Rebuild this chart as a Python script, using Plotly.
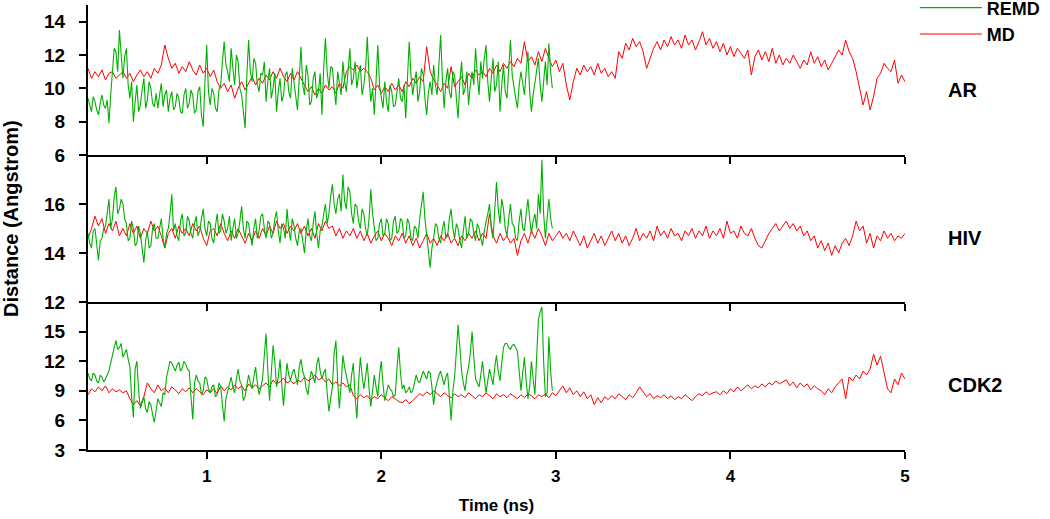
import numpy as np
import plotly.graph_objects as go

# ---------------- data ----------------
# MD traces sampled every 0.02 ns, REMD traces every 0.01 ns, both from 0.32 ns
T_START = 0.32
STEP_MD = 0.02
STEP_REMD = 0.01

ar_md = [
    11.2, 10.6, 11.0, 10.7, 11.1, 10.5, 10.9, 11.0, 10.6, 10.8,
    11.0, 10.6, 10.9, 10.4, 10.8, 11.1, 10.7, 11.0, 10.6, 11.2,
    10.9, 11.4, 12.6, 11.8, 11.2, 11.5, 10.9, 11.3, 11.0, 11.6,
    11.1, 10.8, 11.4, 10.9, 11.2, 10.7, 11.1, 10.4, 10.0, 10.3,
    9.8, 10.2, 9.4, 10.0, 10.4, 9.9, 10.3, 10.7, 10.2, 10.6,
    10.3, 10.8, 10.5, 11.0, 10.6, 11.2, 10.7, 10.4, 10.9, 10.5,
    11.0, 10.6, 10.2, 9.8, 10.1, 9.6, 10.0, 9.7, 10.2, 9.9,
    10.1, 9.7, 10.3, 10.0, 11.0, 11.3, 11.1, 11.4, 11.0, 11.2,
    11.0, 10.6, 9.9, 10.2, 9.7, 10.1, 9.8, 10.3, 9.9, 10.2,
    9.8, 10.4, 10.1, 10.6, 10.3, 10.7, 10.4, 12.5, 11.0, 10.5,
    10.2, 9.8, 10.3, 10.0, 11.3, 10.1, 10.4, 10.7, 10.2, 10.9,
    10.6, 11.1, 10.8, 11.0, 10.7, 11.2, 10.9, 11.4, 11.0, 11.5,
    11.2, 11.6, 11.3, 11.8, 11.5, 12.8, 11.6, 11.9, 11.4, 12.2,
    11.6, 12.4, 11.8, 11.3, 11.7, 11.0, 11.5, 10.2, 9.3, 10.4,
    11.2, 10.8, 11.4, 11.0, 11.3, 10.8, 11.5, 10.9, 11.2, 10.7,
    11.0, 10.6, 12.2, 11.8, 12.7, 12.3, 13.0, 12.5, 12.8, 12.2,
    11.2, 11.8, 12.4, 12.8, 12.3, 12.9, 12.5, 13.1, 12.6, 12.9,
    12.4, 13.2, 12.6, 12.9, 12.3, 12.8, 13.4, 12.6, 13.0, 12.4,
    12.8, 12.2, 12.7, 12.0, 12.5, 11.9, 12.4, 12.1, 11.8, 12.3,
    10.8, 11.9, 12.3, 11.7, 12.2, 11.6, 12.4, 11.5, 12.0, 11.4,
    11.8, 11.5, 12.0, 11.6, 11.2, 11.7, 11.4, 12.2, 11.5, 11.9,
    11.3, 11.7, 11.1, 11.5, 11.9, 12.3, 12.0, 12.9, 12.2, 11.8,
    11.0, 10.0, 9.0, 9.8, 8.7, 9.5, 10.6, 10.9, 11.5, 11.2,
    11.0, 11.7, 10.3, 10.8, 10.4,
]

ar_remd = [
    9.4, 9.0, 8.6, 9.5, 9.2, 8.7, 8.4, 9.1, 9.6, 9.0, 8.8, 9.3, 7.9, 9.6, 10.8, 12.4, 12.2, 11.0, 13.5, 11.8,
    10.6, 11.9, 12.4, 10.2, 9.4, 10.4, 8.0, 9.2, 10.2, 8.6, 9.0, 9.9, 10.6, 8.8, 9.3, 10.4, 10.0, 9.1, 8.9, 9.7,
    8.8, 9.6, 10.3, 8.9, 9.6, 9.9, 8.6, 9.4, 9.8, 8.7, 8.9, 9.7, 9.4, 8.6, 8.5, 9.6, 10.0, 8.8, 9.1, 9.9,
    9.6, 8.5, 8.7, 9.8, 10.1, 8.4, 7.7, 10.4, 12.6, 9.8, 9.0, 10.0, 9.7, 8.8, 8.6, 9.9, 10.2, 11.6, 12.8, 11.4,
    11.0, 10.4, 12.4, 11.2, 10.2, 12.0, 11.6, 10.0, 9.6, 8.6, 7.6, 10.8, 12.9, 11.0, 10.4, 11.8, 11.5, 10.2, 9.8, 10.9,
    10.8, 11.6, 9.2, 10.4, 11.2, 9.4, 10.0, 10.9, 8.6, 9.8, 10.6, 9.2, 9.6, 10.8, 11.0, 9.8, 9.4, 11.2, 10.4, 9.5,
    8.7, 10.6, 12.5, 10.2, 9.6, 11.4, 10.8, 9.0, 9.2, 10.6, 11.0, 9.4, 9.8, 10.9, 8.4, 11.2, 13.0, 11.0, 10.0, 11.3,
    11.2, 10.0, 9.0, 11.0, 10.4, 9.6, 11.6, 10.4, 9.8, 11.0, 12.4, 10.2, 10.6, 11.6, 10.0, 10.8, 11.4, 9.6, 10.2, 11.2,
    13.1, 10.6, 9.2, 10.0, 8.4, 10.4, 12.6, 10.2, 9.6, 8.8, 10.4, 9.2, 8.6, 10.2, 9.8, 8.9, 9.0, 10.0, 10.6, 9.4,
    9.2, 10.2, 8.2, 10.6, 12.8, 10.8, 9.6, 10.4, 11.0, 9.2, 9.8, 11.2, 10.8, 9.4, 8.4, 9.8, 10.4, 9.6, 11.4, 10.2,
    9.6, 11.4, 13.2, 10.6, 8.8, 10.4, 11.2, 9.8, 9.4, 11.0, 10.8, 9.4, 8.2, 10.4, 11.6, 9.6, 10.0, 11.0, 9.0, 10.2,
    11.0, 10.2, 12.4, 10.8, 9.6, 11.6, 10.6, 11.8, 12.6, 10.4, 9.2, 10.6, 11.8, 9.8, 10.2, 11.6, 8.6, 10.2, 11.4, 9.8,
    9.4, 11.2, 12.9, 10.8, 10.0, 9.4, 8.8, 10.2, 11.0, 10.2, 9.6, 11.0, 12.2, 9.8, 8.6, 9.6, 10.4, 11.0, 11.8, 10.2,
    9.2, 10.4, 11.6, 10.2, 12.7, 11.0, 10.0,
]

hiv_md = [
    14.6, 15.0, 15.5, 15.1, 15.4, 14.8, 15.2, 14.9, 15.3, 14.7,
    15.0, 14.7, 15.2, 14.8, 15.1, 14.6, 15.0, 14.8, 15.3, 14.9,
    15.1, 14.7, 14.2, 14.8, 15.0, 14.6, 15.1, 14.8, 15.0, 14.7,
    15.2, 14.9, 15.1, 14.6, 14.3, 14.9, 15.0, 14.7, 15.2, 14.8,
    14.5, 14.9, 14.6, 15.0, 14.7, 14.4, 14.8, 14.5, 14.9, 14.6,
    15.0, 14.7, 15.1, 14.8, 15.3, 15.0, 15.2, 14.8, 15.1, 14.9,
    15.2, 14.8, 15.1, 14.7, 15.0, 14.6, 15.2, 14.9, 15.3, 15.0,
    15.1, 14.7, 15.0, 14.6, 14.9, 14.7, 15.0, 14.6, 14.9, 14.5,
    14.8, 14.4, 14.7, 14.9, 14.5, 14.8, 14.6, 14.3, 14.7, 14.5,
    14.8, 14.4, 14.7, 14.3, 14.6, 14.2, 14.5, 14.8, 14.4, 14.6,
    14.3, 14.7, 14.5, 14.8, 14.4, 14.6, 14.3, 14.7, 14.5, 14.8,
    14.6, 14.9, 14.5, 14.8, 14.6, 15.6, 14.7, 14.4, 14.8, 14.5,
    14.7, 14.4, 14.6, 13.9, 14.5, 14.8, 14.4, 14.9, 14.6, 15.0,
    14.7, 14.3, 14.8, 14.5, 14.7, 14.9, 14.6, 14.8, 14.5, 14.9,
    14.6, 14.3, 14.7, 14.2, 14.5, 14.8, 14.4, 14.7, 14.3, 14.6,
    14.9, 14.5, 14.8, 14.4, 14.7, 14.3, 14.6, 15.0, 14.5, 14.8,
    14.6, 14.9, 14.5, 15.1, 14.7, 14.9, 14.6, 15.0, 14.7, 14.8,
    14.5, 14.9, 14.7, 15.0, 14.6, 14.9, 14.7, 15.1, 14.6, 14.9,
    14.7, 15.0, 14.6, 15.3, 14.8, 14.9, 14.6, 15.1, 14.8, 14.7,
    15.0, 14.6, 14.3, 14.2, 14.5, 14.8, 15.0, 15.2, 14.9, 15.1,
    15.3, 15.0, 15.2, 14.9, 15.1, 14.7, 14.9, 14.5, 14.7, 14.2,
    14.5, 14.1, 14.4, 13.9, 14.3, 14.0, 14.4, 14.6, 14.3, 14.7,
    15.3, 14.9, 15.1, 14.4, 14.8, 14.2, 14.7, 14.5, 14.9, 14.6,
    14.8, 14.5, 14.7, 14.6, 14.8,
]

hiv_remd = [
    14.8, 14.4, 14.2, 14.9, 15.0, 14.3, 13.7, 14.5, 14.6, 15.0, 15.1, 15.6, 16.2, 15.0, 15.4, 16.3, 16.7, 15.6, 15.8, 16.2,
    16.0, 15.4, 15.2, 14.5, 14.6, 15.3, 15.0, 14.3, 14.4, 15.1, 14.8, 14.2, 13.6, 14.5, 14.9, 14.2, 14.3, 15.0, 15.2, 14.6,
    14.6, 15.0, 15.4, 14.6, 14.2, 14.8, 15.0, 15.6, 16.4, 14.9, 15.2, 14.7, 14.5, 15.3, 15.6, 14.7, 14.8, 15.5, 15.3, 14.8,
    14.6, 15.2, 15.5, 14.7, 14.9, 15.4, 15.8, 15.0, 14.7, 15.3, 15.2, 14.6, 14.4, 15.1, 15.6, 14.8, 14.9, 15.6, 15.3, 14.8,
    15.0, 15.5, 14.5, 15.0, 15.4, 14.6, 14.8, 15.3, 15.9, 15.0, 14.6, 15.3, 15.2, 14.7, 14.3, 15.0, 15.4, 14.6, 14.9, 15.5,
    15.6, 15.0, 14.6, 15.3, 15.2, 14.6, 14.8, 15.4, 15.7, 14.9, 14.4, 15.2, 15.0, 14.6, 15.8, 15.0, 14.5, 15.4, 15.1, 14.6,
    14.3, 14.9, 15.0, 14.5, 14.0, 14.9, 15.4, 14.7, 14.5, 15.2, 15.7, 14.8, 14.2, 14.9, 15.1, 15.6, 16.0, 15.2, 15.6, 16.3,
    16.8, 16.0, 15.6, 16.2, 16.4, 15.7, 17.2, 16.1, 15.8, 16.7, 16.5, 15.6, 15.2, 16.0, 15.9, 15.3, 15.0, 15.8, 15.6, 15.0,
    14.7, 15.4, 16.6, 15.6, 15.1, 14.5, 14.6, 15.2, 15.4, 14.7, 14.8, 15.4, 15.2, 14.5, 14.6, 15.3, 15.5, 14.8, 14.9, 15.4,
    15.3, 14.6, 14.7, 15.4, 15.2, 14.6, 14.5, 15.1, 15.0, 14.6, 15.4, 15.9, 16.5, 15.4, 14.8, 14.2, 13.4, 14.2, 14.6, 15.2,
    15.1, 14.6, 14.4, 15.0, 15.3, 14.6, 14.7, 15.4, 15.8, 15.0, 14.6, 15.2, 15.0, 14.5, 14.2, 14.9, 15.5, 14.6, 14.8, 15.4,
    15.3, 14.8, 14.5, 15.2, 15.0, 14.6, 14.3, 14.9, 15.2, 15.6, 16.0, 15.0, 14.6, 15.8, 16.9, 15.8, 15.2, 16.2, 15.8, 15.0,
    14.7, 15.4, 16.0, 15.2, 15.1, 14.6, 14.5, 15.3, 15.8, 15.0, 14.9, 15.6, 16.2, 15.4, 14.8, 15.3, 15.6, 15.0, 16.4, 15.6,
    17.8, 15.6, 14.6, 15.4, 16.2, 15.4, 15.0,
]

cdk2_md = [
    8.6, 9.2, 8.9, 9.4, 9.0, 9.5, 8.8, 9.2, 8.9, 9.1,
    8.8, 9.0, 8.2, 7.6, 8.0, 7.5, 8.4, 9.8, 9.2, 8.8,
    9.6, 9.0, 9.3, 8.8, 9.4, 9.1, 8.7, 9.2, 8.9, 9.3,
    8.8, 9.2, 8.9, 8.6, 9.1, 8.8, 9.2, 8.7, 9.5, 9.0,
    9.4, 9.1, 9.6, 9.2, 9.5, 9.0, 9.7, 9.3, 9.6, 9.2,
    9.5, 9.8, 9.4, 10.1, 9.7, 9.9, 10.3, 9.8, 10.0, 9.7,
    10.1, 9.9, 10.4, 10.0, 10.2, 10.6, 10.1, 10.3, 9.9, 10.2,
    9.6, 9.9, 9.5, 9.8, 9.4, 9.6, 8.5, 8.2, 8.6, 8.3,
    8.5, 8.1, 8.4, 8.2, 8.6, 8.3, 8.0, 8.4, 8.2, 7.9,
    7.8, 8.1, 7.7, 8.0, 8.4, 8.7, 8.5, 8.9, 8.6, 9.0,
    8.7, 8.4, 8.8, 8.5, 8.3, 8.7, 8.4, 8.6, 8.3, 8.8,
    8.5, 8.2, 8.6, 8.4, 8.8, 8.5, 8.2, 8.7, 8.4, 8.6,
    8.3, 8.7, 8.4, 8.2, 8.6, 8.3, 8.7, 8.5, 8.2, 8.6,
    8.4, 8.7, 8.3, 8.8, 8.5, 9.0, 9.5, 8.8, 9.3, 8.6,
    9.0, 8.4, 8.9, 8.2, 8.6, 7.6, 8.3, 7.8, 8.4, 8.1,
    8.5, 8.2, 8.7, 8.4, 8.1, 8.6, 8.3, 8.8, 9.4, 8.9,
    8.4, 8.7, 8.2, 8.5, 8.3, 8.6, 8.2, 8.5, 8.1, 8.4,
    8.2, 8.6, 8.3, 8.0, 8.4, 8.7, 8.5, 8.9, 8.6, 8.8,
    8.9, 8.6, 9.0, 8.7, 9.2, 8.9, 9.4, 9.0, 9.3, 9.6,
    9.2, 9.5, 9.3, 9.7, 9.4, 9.8, 9.6, 10.0, 9.7, 9.9,
    10.1, 9.5, 9.9, 9.3, 9.8, 9.4, 9.7, 9.1, 9.5, 9.2,
    9.0, 8.6, 9.2, 8.8, 9.4, 9.8, 10.2, 8.2, 10.4, 10.0,
    10.6, 10.2, 11.0, 10.6, 11.2, 12.7, 11.6, 12.5, 11.0, 9.2,
    8.8, 10.2, 9.6, 10.8, 10.2,
]

cdk2_remd = [
    10.8, 10.2, 10.0, 10.8, 10.6, 10.0, 9.8, 10.6, 10.4, 9.9, 10.2, 10.6, 11.0, 11.8, 12.6, 13.4, 14.1, 13.2, 13.4, 13.8,
    12.4, 12.8, 13.2, 12.2, 11.4, 8.4, 6.3, 11.2, 12.0, 9.0, 7.2, 7.8, 8.4, 7.2, 6.8, 7.9, 7.6, 6.6, 5.8, 7.0,
    8.2, 7.8, 7.4, 8.8, 8.6, 10.4, 11.2, 12.0, 11.8, 11.4, 11.0, 11.6, 11.9, 11.0, 11.3, 12.0, 11.7, 11.2, 11.0, 8.4,
    6.1, 9.8, 10.6, 10.0, 9.8, 8.6, 9.0, 10.4, 10.2, 9.2, 8.8, 9.4, 9.6, 8.4, 8.6, 9.8, 9.4, 7.6, 5.9, 8.2,
    9.0, 9.8, 10.4, 9.4, 8.8, 10.2, 11.2, 10.0, 9.6, 8.0, 8.4, 9.6, 10.6, 9.8, 9.2, 10.4, 11.4, 9.8, 8.6, 9.4,
    10.2, 12.6, 14.8, 11.0, 8.0, 10.8, 13.6, 12.0, 9.4, 10.4, 12.2, 9.6, 7.5, 9.8, 11.8, 10.6, 10.0, 10.8, 11.2, 10.4,
    9.6, 11.4, 12.2, 11.0, 10.4, 9.2, 8.6, 10.2, 11.0, 10.4, 9.8, 11.6, 12.4, 11.0, 10.2, 10.8, 11.2, 8.8, 6.9, 8.2,
    9.4, 12.8, 14.1, 10.0, 7.2, 9.6, 12.6, 11.4, 10.4, 9.4, 8.8, 10.6, 11.8, 8.4, 6.2, 9.8, 12.4, 10.6, 9.2, 10.4,
    11.8, 9.2, 7.4, 9.0, 10.6, 9.4, 8.4, 10.6, 12.0, 9.6, 8.0, 8.8, 9.6, 9.2, 9.0, 8.4, 8.6, 11.2, 13.4, 10.8,
    9.2, 9.6, 8.8, 9.0, 9.4, 8.8, 9.0, 9.8, 10.6, 10.0, 9.8, 10.4, 11.0, 10.6, 10.2, 11.0, 10.8, 9.4, 7.6, 9.2,
    10.0, 10.6, 11.0, 10.2, 9.6, 10.4, 10.8, 8.4, 6.0, 9.0, 10.4, 13.0, 15.7, 13.4, 11.0, 9.8, 9.0, 10.6, 11.4, 12.8,
    15.0, 12.4, 10.2, 9.8, 9.4, 10.6, 12.0, 10.2, 8.8, 10.0, 11.2, 10.4, 9.6, 11.4, 12.6, 11.0, 10.0, 11.8, 13.4, 13.8,
    13.8, 13.4, 13.2, 13.6, 13.7, 13.4, 13.0, 11.0, 9.0, 10.8, 12.4, 10.0, 8.2, 9.4, 12.0, 10.2, 8.6, 12.4, 16.2, 17.0,
    17.5, 12.0, 8.4, 8.8, 14.5, 11.0, 9.0,
]

panel_names = ["AR", "HIV", "CDK2"]
md_series = [ar_md, hiv_md, cdk2_md]
remd_series = [ar_remd, hiv_remd, cdk2_remd]
y_ranges = [[6, 15], [12, 18], [3, 18]]
y_ticks = [[6, 8, 10, 12, 14], [12, 14, 16], [3, 6, 9, 12, 15]]
x_ticks = [1, 2, 3, 4, 5]
x_range = [0.32, 5.0]

GREEN = "#00B000"
RED = "#FF0000"
FONT = "Liberation Sans, Arial, sans-serif"


def times(n, step):
    return T_START + step * np.arange(n)


fig = go.Figure()

domains = [[0.663, 1.0], [0.3326, 0.663], [0.0, 0.3326]]
label_y = [0.809, 0.476, 0.146]

for i in range(3):
    xa = "x" if i == 0 else f"x{i + 1}"
    ya = "y" if i == 0 else f"y{i + 1}"
    fig.add_trace(go.Scatter(
        x=times(len(md_series[i]), STEP_MD), y=md_series[i], mode="lines",
        line=dict(color=RED, width=1), name="MD", legendrank=2,
        showlegend=(i == 0), xaxis=xa, yaxis=ya))
    fig.add_trace(go.Scatter(
        x=times(len(remd_series[i]), STEP_REMD), y=remd_series[i], mode="lines",
        line=dict(color=GREEN, width=1.1), name="REMD", legendrank=1,
        showlegend=(i == 0), xaxis=xa, yaxis=ya))

axis_common = dict(showline=True, linecolor="black", linewidth=2,
                   ticks="outside", tickcolor="black", tickwidth=2, ticklen=7,
                   showgrid=False, zeroline=False, automargin=False,
                   tickfont=dict(family=FONT, size=19, color="black", weight="bold"))

layout_axes = {}
for i in range(3):
    xkey = "xaxis" if i == 0 else f"xaxis{i + 1}"
    ykey = "yaxis" if i == 0 else f"yaxis{i + 1}"
    ya = "y" if i == 0 else f"y{i + 1}"
    layout_axes[xkey] = dict(axis_common, range=x_range, tickvals=x_ticks,
                             showticklabels=(i == 2), anchor=ya,
                             domain=[0, 1], ticklabelstandoff=3)
    layout_axes[xkey]["tickfont"] = dict(family=FONT, size=17, color="black", weight="bold")
    if i < 2:
        layout_axes[xkey]["matches"] = "x3"
    layout_axes[ykey] = dict(axis_common, range=y_ranges[i], tickvals=y_ticks[i],
                             domain=domains[i], anchor="x" if i == 0 else f"x{i + 1}",
                             ticklabelstandoff=10)

fig.update_layout(**layout_axes)
fig.update_layout(
    width=1050, height=519,
    margin=dict(l=88, r=145, t=5, b=69, autoexpand=False),
    paper_bgcolor="white", plot_bgcolor="white",
    font=dict(family=FONT, color="black"),
    legend=dict(x=1.012, y=1.035, xanchor="left", yanchor="top",
                bgcolor="rgba(0,0,0,0)", itemwidth=62, tracegroupgap=0,
                font=dict(family=FONT, size=18, color="black", weight="bold")),
)

fig.update_layout(xaxis3_title=dict(text="Time (ns)", standoff=14,
                                    font=dict(family=FONT, size=17, weight="bold")))

for i, name in enumerate(panel_names):
    fig.add_annotation(x=1.050, y=label_y[i], xref="paper", yref="paper",
                       text=name, showarrow=False, xanchor="left", yanchor="middle",
                       font=dict(family=FONT, size=20, color="black", weight="bold"))

fig.add_annotation(x=-0.095, y=0.52, xref="paper", yref="paper",
                   text="Distance (Angstrom)", textangle=-90, showarrow=False,
                   xanchor="center", yanchor="middle",
                   font=dict(family=FONT, size=20, color="black", weight="bold"))

fig.write_html("out.html", config={"displayModeBar": False},
               post_script="document.body.style.margin='0';")
